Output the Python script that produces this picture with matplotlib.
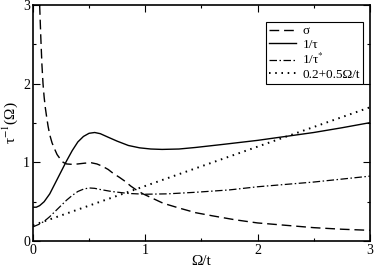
import matplotlib
matplotlib.use("Agg")
import matplotlib.pyplot as plt

# === Data ===
sigma_x = [0.06, 0.07, 0.08, 0.09, 0.10, 0.11, 0.12, 0.135, 0.15, 0.17, 0.19, 0.215,
           0.24, 0.27, 0.30, 0.35, 0.40, 0.46, 0.52, 0.57, 0.62, 0.67, 0.715, 0.77,
           0.82, 0.87, 0.92, 0.98, 1.04, 1.10, 1.16, 1.23, 1.30, 1.45, 1.60, 1.80,
           2.0, 2.25, 2.5, 2.75, 3.0]
sigma_y = [3.0, 2.6, 2.25, 2.0, 1.83, 1.7, 1.6, 1.46, 1.35, 1.25, 1.18, 1.1,
           1.05, 1.0, 0.98, 0.975, 0.98, 0.99, 0.995, 0.98, 0.95, 0.91, 0.86, 0.81,
           0.76, 0.70, 0.65, 0.60, 0.56, 0.52, 0.48, 0.45, 0.42, 0.36, 0.32, 0.27,
           0.23, 0.20, 0.17, 0.15, 0.136]

tau_x = [0.0, 0.03, 0.06, 0.1, 0.15, 0.2, 0.25, 0.3, 0.35, 0.4, 0.45, 0.5, 0.55,
         0.6, 0.67, 0.75, 0.85, 0.95, 1.05, 1.15, 1.3, 1.45, 1.7, 2.0, 2.25, 2.5,
         2.75, 3.0]
tau_y = [0.43, 0.43, 0.45, 0.5, 0.6, 0.74, 0.88, 1.02, 1.15, 1.26, 1.33, 1.37, 1.38,
         1.365, 1.32, 1.27, 1.215, 1.185, 1.17, 1.165, 1.17, 1.19, 1.23, 1.28, 1.33, 1.38,
         1.44, 1.505]

taus_x = [0.0, 0.05, 0.1, 0.15, 0.2, 0.25, 0.3, 0.35, 0.4, 0.45, 0.5, 0.55, 0.6,
          0.7, 0.85, 1.0, 1.2, 1.45, 1.75, 2.0, 2.5, 3.0]
taus_y = [0.18, 0.21, 0.25, 0.31, 0.38, 0.45, 0.52, 0.58, 0.63, 0.66, 0.675, 0.67, 0.655,
          0.63, 0.605, 0.595, 0.6, 0.62, 0.65, 0.69, 0.75, 0.825]

lin_x = [0.0, 3.0]
lin_y = [0.2, 1.7]

# === Plot ===
plt.rcParams['font.family'] = ['Liberation Serif', 'DejaVu Serif']
plt.rcParams['mathtext.fontset'] = 'stix'

fig = plt.figure(figsize=(3.74, 2.69), dpi=100)
ax = fig.add_axes([0.088, 0.104, 0.901, 0.877])

ax.plot(sigma_x, sigma_y, color='black', lw=1.0, dashes=(7, 3.5), label='σ')
ax.plot(tau_x, tau_y, color='black', lw=1.0, label='1/τ')
ax.plot(taus_x, taus_y, color='black', lw=0.9, dashes=(6, 2, 1.2, 2), label='1/τ$^{*}$')
ax.plot(lin_x, lin_y, color='black', lw=1.4, dashes=(0.8, 2.4), label='0.2+0.5Ω/t')

ax.set_xlim(0, 3)
ax.set_ylim(0, 3)
ax.set_xticks([0, 1, 2, 3])
ax.set_yticks([0, 1, 2, 3])
ax.set_xticks([0.5, 1.5, 2.5], minor=True)
ax.set_yticks([0.5, 1.5, 2.5], minor=True)
ax.tick_params(which='both', direction='in', top=True, right=True, labelsize=10, width=0.8)
ax.tick_params(which='major', length=5, pad=2)
ax.tick_params(which='minor', length=2.5)
for s in ax.spines.values():
    s.set_linewidth(1.2)

ax.set_xlabel('Ω/t', fontsize=11, labelpad=-1)
ax.set_ylabel('τ$^{-1}$(Ω)', fontsize=11, labelpad=2)

leg = ax.legend(loc='upper right', bbox_to_anchor=(0.98, 0.93), borderaxespad=0,
                fancybox=False, edgecolor='black', framealpha=1, fontsize=9.5,
                handlelength=2.0, handletextpad=0.5, labelspacing=0.1,
                borderpad=0.25)
leg.get_frame().set_linewidth(0.8)

fig.savefig("out.png", dpi=100)
